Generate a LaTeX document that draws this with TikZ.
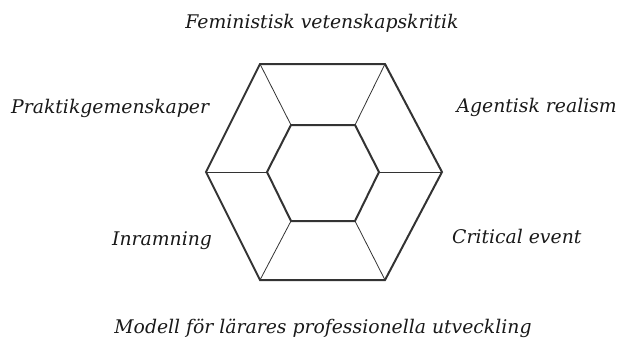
\documentclass[tikz,border=0pt]{standalone}
\usepackage{fontspec}
\setmainfont{DejaVu Serif}
\begin{document}
\begin{tikzpicture}[x=1pt,y=-1pt,
  hexline/.style={draw=black!80, line width=2pt, line join=miter},
  spoke/.style={draw=black!80, line width=0.8pt},
  lbl/.style={font=\itshape\fontsize{18.8}{22}\selectfont, inner sep=0pt, text=black!90}]
\useasboundingbox (0,0) rectangle (619,341);
% outer hexagon corners
\coordinate (o1) at (260,64);
\coordinate (o2) at (385,64);
\coordinate (o3) at (442,172);
\coordinate (o4) at (385,280);
\coordinate (o5) at (260,280);
\coordinate (o6) at (206,172);
% inner hexagon corners
\coordinate (i1) at (291,125);
\coordinate (i2) at (355,125);
\coordinate (i3) at (379,172);
\coordinate (i4) at (355,221);
\coordinate (i5) at (291,221);
\coordinate (i6) at (267,172);
% spokes between the two rings
\foreach \k in {1,...,6} \draw[spoke] (o\k) -- (i\k);
\draw[hexline] (o1) -- (o2) -- (o3) -- (o4) -- (o5) -- (o6) -- cycle;
\draw[hexline] (i1) -- (i2) -- (i3) -- (i4) -- (i5) -- (i6) -- cycle;
% labels
\node[lbl, anchor=base] (top) at (322,28) {Feministisk vetenskapskritik};
\node[lbl, anchor=base west] (pg) at (11,113) {Praktikgemenskaper};
\node[lbl, anchor=base east] (ar) at (617,112) {Agentisk realism};
\node[lbl, anchor=base west] (in) at (112,245) {Inramning};
\node[lbl, anchor=base west] (ce) at (452,243) {Critical event};
\node[lbl, anchor=base] (mo) at (323,333) {Modell för lärares professionella utveckling};
\end{tikzpicture}
\end{document}
